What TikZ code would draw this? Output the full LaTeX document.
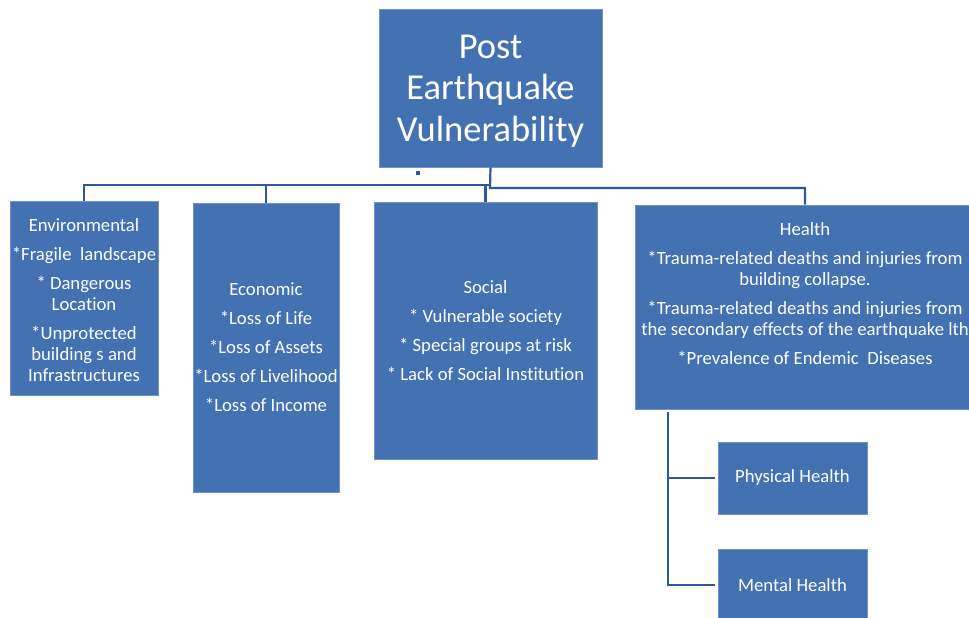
\documentclass[tikz,border=0pt]{standalone}
\usepackage{fontspec}
\setmainfont{Carlito}[Ligatures=NoCommon]
\definecolor{boxblue}{RGB}{67,113,178}
\definecolor{boxedge}{RGB}{112,146,200}
\definecolor{linkblue}{RGB}{46,88,154}
\tikzset{
  box/.style={rectangle, fill=boxblue, draw=boxedge, line width=0.8pt,
    text=white, align=center, inner sep=0pt,
    font=\fontsize{18.7}{21}\selectfont},
  boxtext/.style={text=white, align=center, inner sep=0pt,
    font=\fontsize{18.7}{21}\selectfont},
  link/.style={draw=linkblue, line width=2.2pt},
}
\begin{document}
\begin{tikzpicture}[x=1pt,y=-1pt]
\useasboundingbox (0,0) rectangle (969,618);
\clip (0,0) rectangle (969,618);

% top-level box
\node[box, minimum width=223pt, minimum height=158pt] (top) at (490.5,88) {};
\node[boxtext, font=\fontsize{36.5}{41.5}\selectfont] (toptext) at (490.5,91)
  {Post\\Earthquake\\Vulnerability};
\node[fill=linkblue, minimum size=4pt, inner sep=0pt] (dot) at (418,173) {};

% category boxes
\node[box, minimum width=148pt, minimum height=194pt] (env) at (84,298) {};
\node[boxtext] (envtext) at (84,300)
  {Environmental\\[8pt]
   *Fragile\ \ landscape\\[8pt]
   * Dangerous\\Location\\[8pt]
   *Unprotected\\building s and\\Infrastructures};
\node[box, minimum width=146pt, minimum height=289pt] (econ) at (266,347.5)
  {Economic\\[8pt]
   *Loss of Life\\[8pt]
   *Loss of Assets\\[8pt]
   *Loss of Livelihood\\[8pt]
   *Loss of Income};
\node[box, minimum width=223pt, minimum height=257pt] (social) at (485.5,330.5)
  {Social\\[8pt]
   * Vulnerable society\\[8pt]
   * Special groups at risk\\[8pt]
   * Lack of Social Institution};
\node[box, minimum width=340pt, minimum height=204pt] (health) at (805,307) {};
\node[boxtext] (healthtext) at (805,294)
  {Health\\[8pt]
   *Trauma-related deaths and injuries from\\building collapse.\\[8pt]
   *Trauma-related deaths and injuries from\\the secondary effects of the earthquake lth\\[8pt]
   *Prevalence of Endemic\ \ Diseases};

% health sub-boxes
\node[box, minimum width=149pt, minimum height=72pt] (phys) at (792.5,478) {Physical Health};
\node[box, minimum width=149pt, minimum height=72pt] (mental) at (792.5,585) {Mental Health};

% connectors
\coordinate (busL) at (490,185);
\coordinate (busR) at (490,188);
\draw[link] (top.south) -- (busR) -| (health.north);
\draw[link] (busL) -| (env.north);
\draw[link] (busL) -| (econ.north);
\draw[link] (busL) -| (social.north);

\coordinate (hsub) at (668,412);
\draw[link] (hsub) |- ([xshift=-3pt]phys.west);
\draw[link] (hsub) |- ([xshift=-3pt]mental.west);
\end{tikzpicture}
\end{document}
